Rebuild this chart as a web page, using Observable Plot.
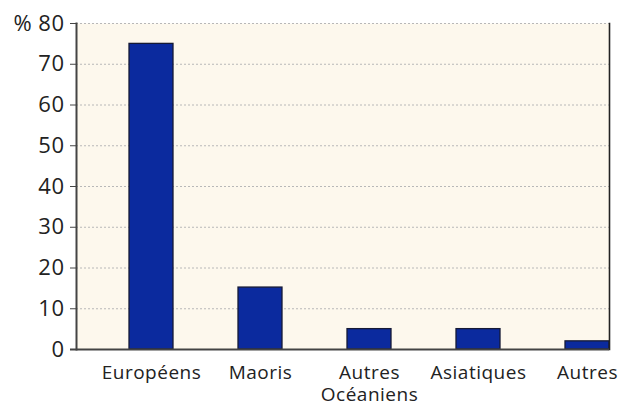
<!DOCTYPE html>
<html>
<head>
<meta charset="utf-8">
<script src="https://cdn.jsdelivr.net/npm/d3@7"></script>
<script src="https://cdn.jsdelivr.net/npm/@observablehq/plot@0.6"></script>
<style>
  html, body { margin: 0; padding: 0; background: #ffffff; }
  #chart svg { display: block; }
  #chart svg text { letter-spacing: 0.5px; }
</style>
</head>
<body>
<div id="chart"></div>
<script>
const categories = ["Européens", "Maoris", "Autres\nOcéaniens", "Asiatiques", "Autres"];
const values = [75, 15.2, 5, 5, 2];
const yTicks = [0, 10, 20, 30, 40, 50, 60, 70, 80];

const data = categories.map((c, i) => ({category: c, value: values[i]}));

const chart = Plot.plot({
  width: 621,
  height: 403,
  marginLeft: 76,
  marginRight: 12,
  marginTop: 23,
  marginBottom: 54,
  style: {fontFamily: "'Open Sans', sans-serif", fontSize: "19px", color: "#222", background: "#ffffff", overflow: "visible"},
  x: {domain: categories, paddingInner: 0.6, paddingOuter: 0.24, align: 1, label: null},
  y: {domain: [0, 80], label: null},
  marks: [
    Plot.frame({fill: "#fdf8ed", stroke: null}),
    Plot.gridY(yTicks, {stroke: "#b8b8b8", strokeOpacity: 1, strokeDasharray: "2,2", strokeWidth: 1}),
    Plot.barY(data, {x: "category", y: "value", fill: "#0b2a9e", stroke: "#161a35", strokeWidth: 1.3}),
    Plot.frame({anchor: "right", stroke: "#222", strokeWidth: 1.6}),
    Plot.frame({anchor: "left", stroke: "#444", strokeWidth: 2}),
    Plot.ruleY([0], {stroke: "#444", strokeWidth: 2, insetLeft: -6}),
    Plot.axisY(yTicks, {tickSize: 6, tickPadding: 6, stroke: "#444", tickFormat: d => d === 80 ? "% 80" : String(d), fontSize: 22, fill: "#222"}),
    Plot.axisX({tickSize: 0, tickPadding: 13, fontSize: 19, fill: "#222", lineHeight: 1.2})
  ]
});

document.getElementById("chart").appendChild(chart);
</script>
</body>
</html>
